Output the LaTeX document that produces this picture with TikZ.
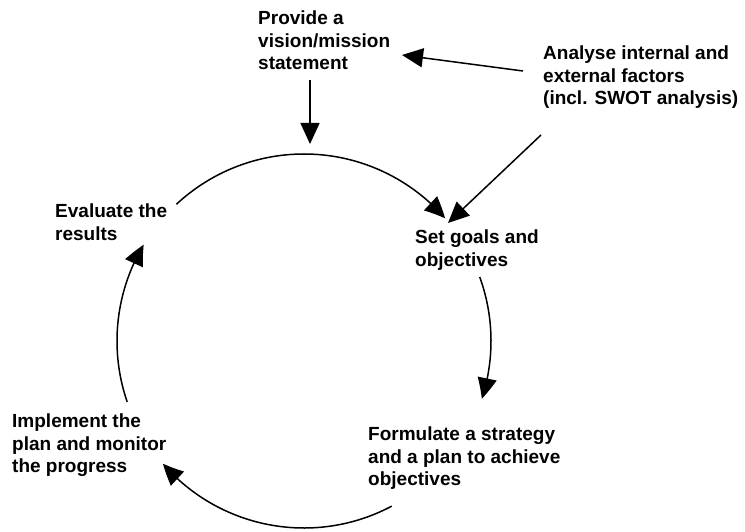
\documentclass[tikz,border=0pt]{standalone}
\usepackage{fontspec}
\setmainfont{Liberation Sans}
\usetikzlibrary{arrows.meta,bending,calc}
\begin{document}
\begin{tikzpicture}[x=1pt,y=1pt,
  lbl/.style={anchor=north west,inner sep=0pt,align=left,font=\fontsize{19}{22.5}\selectfont\bfseries},
  arr/.style={line width=1.5pt,-{Triangle[length=21pt,width=19pt]}},
  arcarr/.style={line width=1.5pt,-{Triangle[length=21pt,width=19pt,bend]}}]
\useasboundingbox (0,0) rectangle (745,531);
% text nodes
\node[lbl] (vision) at (258,520) {Provide a\\vision/mission\\statement};
\node[lbl] (analyse) at (543,485) {Analyse internal and\\external factors\\(incl. SWOT analysis)};
\node[lbl] (goals) at (415,301) {Set goals and\\objectives};
\node[lbl] (evaluate) at (55,327) {Evaluate the\\results};
\node[lbl] (implement) at (12,117) {Implement the\\plan and monitor\\the progress};
\node[lbl] (formulate) at (368,104) {Formulate a strategy\\and a plan to achieve\\objectives};
% circle
\coordinate (C) at (304,190);
\coordinate (t1) at ($(C)+(133:187)$);
\coordinate (r1) at ($(C)+(20:187)$);
\coordinate (b1) at ($(C)+(-62:187)$);
\coordinate (l1) at ($(C)+(199:187)$);
\draw[arcarr] (t1) arc[start angle=133,end angle=41,radius=187];
\draw[arcarr] (r1) arc[start angle=20,end angle=-18,radius=187];
\draw[arcarr] (b1) arc[start angle=-62,end angle=-139,radius=187];
\draw[arcarr] (l1) arc[start angle=199,end angle=149,radius=187];
% straight arrows
\coordinate (vs) at (310,451);
\coordinate (ve) at (310,387);
\coordinate (as) at (523,460);
\coordinate (ae) at (402,476);
\coordinate (gs) at (541,396);
\coordinate (ge) at (448,308);
\draw[arr] (vs) -- (ve);
\draw[arr] (as) -- (ae);
\draw[arr] (gs) -- (ge);
\end{tikzpicture}
\end{document}
